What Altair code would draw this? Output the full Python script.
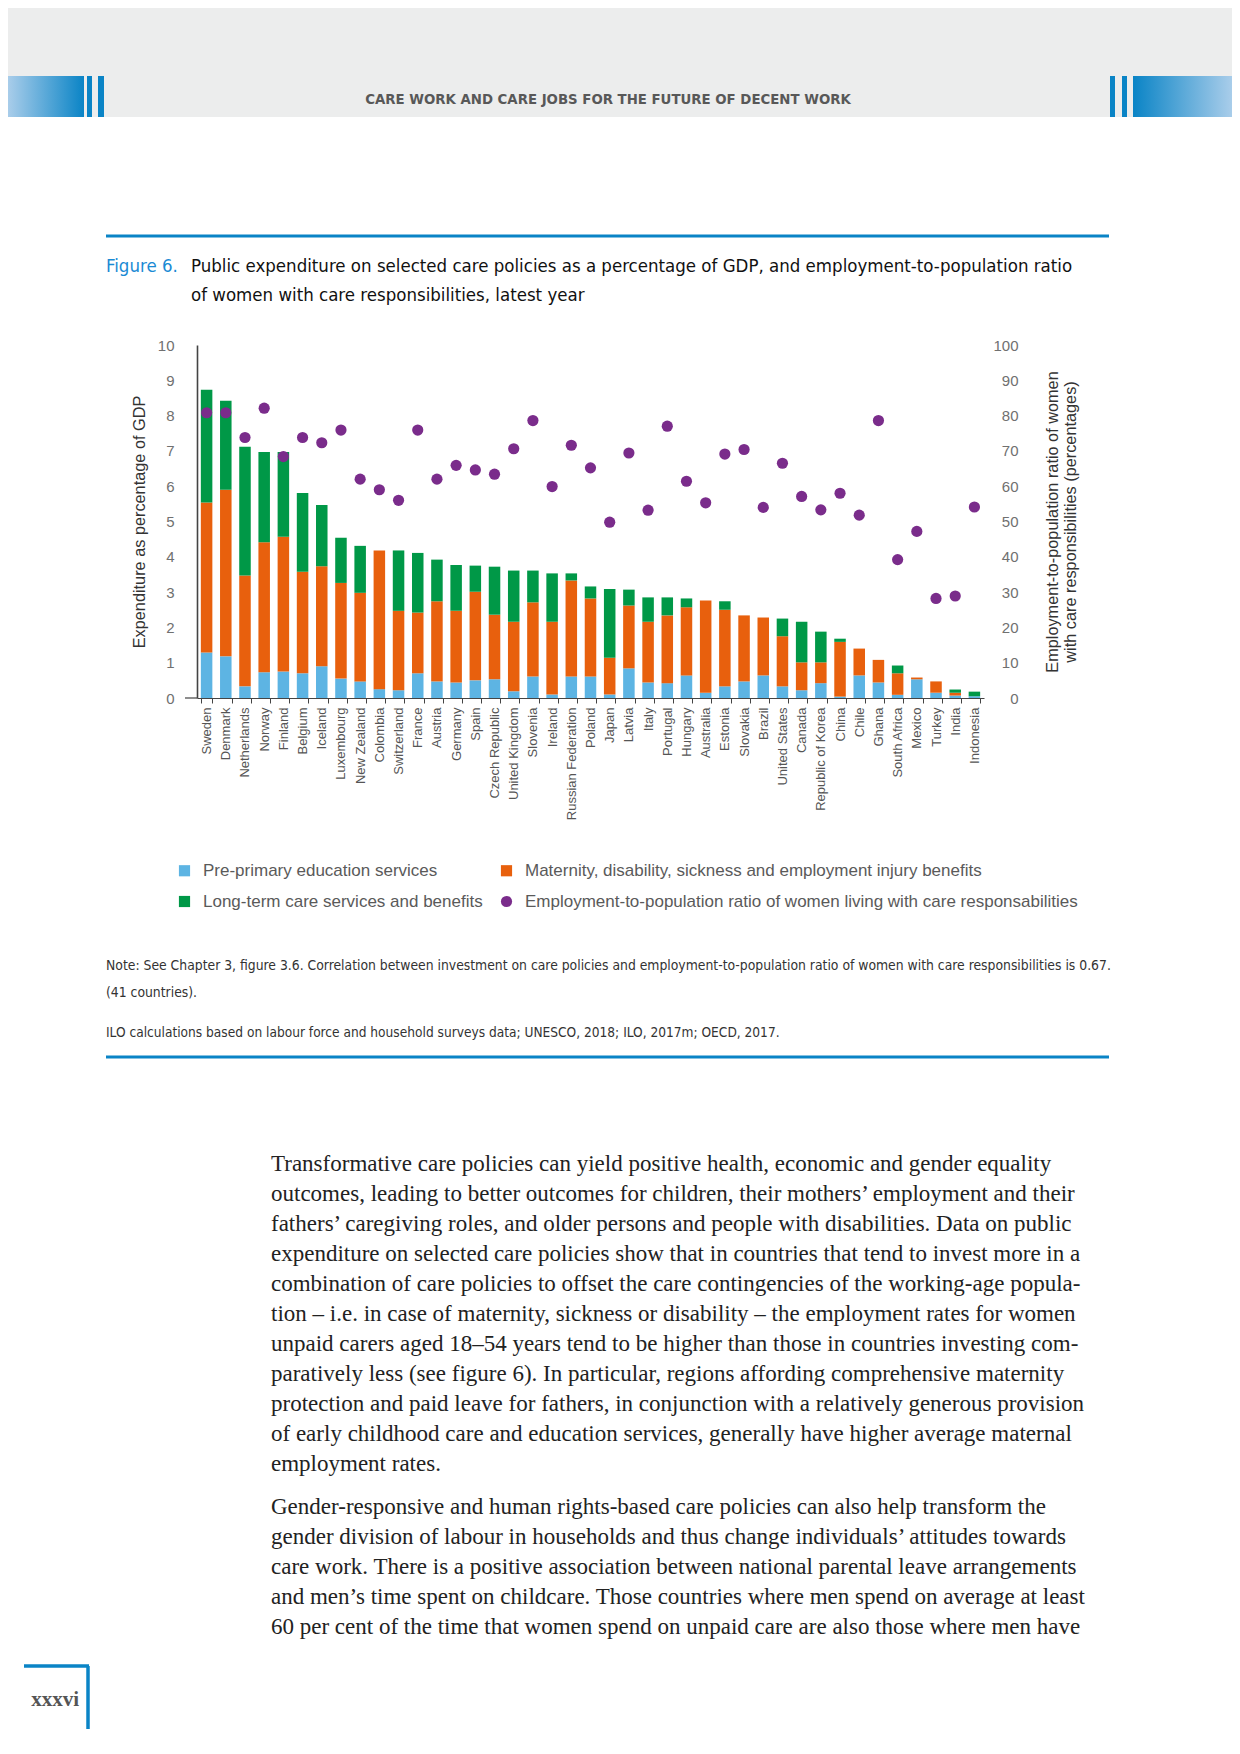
import altair as alt
import pandas as pd

# ---------------- data ----------------
countries = ["Sweden", "Denmark", "Netherlands", "Norway", "Finland", "Belgium", "Iceland",
             "Luxembourg", "New Zealand", "Colombia", "Switzerland", "France", "Austria",
             "Germany", "Spain", "Czech Republic", "United Kingdom", "Slovenia", "Ireland",
             "Russian Federation", "Poland", "Japan", "Latvia", "Italy", "Portugal", "Hungary",
             "Australia", "Estonia", "Slovakia", "Brazil", "United States", "Canada",
             "Republic of Korea", "China", "Chile", "Ghana", "South Africa", "Mexico",
             "Turkey", "India", "Indonesia"]

pre_primary = [1.29, 1.18, 0.33, 0.73, 0.75, 0.70, 0.90, 0.55, 0.47, 0.25, 0.22, 0.70, 0.47,
               0.44, 0.50, 0.53, 0.19, 0.61, 0.10, 0.61, 0.61, 0.10, 0.84, 0.44, 0.42, 0.64,
               0.15, 0.33, 0.47, 0.64, 0.33, 0.22, 0.42, 0.04, 0.64, 0.44, 0.09, 0.53,
               0.15, 0.07, 0.05]

maternity = [4.25, 4.72, 3.14, 3.68, 3.82, 2.88, 2.83, 2.71, 2.51, 3.93, 2.25, 1.72, 2.27,
             2.03, 2.51, 1.83, 1.97, 2.10, 2.06, 2.72, 2.21, 1.04, 1.78, 1.72, 1.92, 1.93,
             2.61, 2.17, 1.87, 1.64, 1.42, 0.79, 0.59, 1.55, 0.76, 0.64, 0.61, 0.05,
             0.32, 0.08, 0.00]

long_term = [3.19, 2.52, 3.65, 2.56, 2.40, 2.23, 1.74, 1.28, 1.33, 0.00, 1.71, 1.69, 1.18,
             1.30, 0.74, 1.36, 1.45, 0.90, 1.37, 0.20, 0.34, 1.95, 0.45, 0.69, 0.51, 0.25,
             0.00, 0.24, 0.00, 0.00, 0.50, 1.15, 0.87, 0.09, 0.00, 0.00, 0.22, 0.00,
             0.00, 0.09, 0.13]

employment = [80.8, 80.8, 73.8, 82.1, 68.4, 73.8, 72.3, 75.9, 62.0, 59.0, 56.0, 75.9, 62.0,
              65.9, 64.6, 63.4, 70.6, 78.6, 59.9, 71.6, 65.2, 49.8, 69.4, 53.2, 77.0, 61.4,
              55.3, 69.1, 70.4, 54.0, 66.5, 57.1, 53.3, 58.0, 51.8, 78.6, 39.2, 47.2,
              28.2, 28.9, 54.1]

PRE = "Pre-primary education services"
MAT = "Maternity, disability, sickness and employment injury benefits"
LTC = "Long-term care services and benefits"
EMP = "Employment-to-population ratio of women living with care responsabilities"

# legend order (filled column by column): col 1 = PRE, LTC ; col 2 = MAT, EMP
legend_series = [PRE, LTC, MAT, EMP]
series_colors = ["#5DB4E3", "#009847", "#E8600D", "#7A2C8B"]
series_shapes = ["square", "square", "square", "circle"]
series_sizes = [125, 125, 125, 66]

left_ticks = [0, 1, 2, 3, 4, 5, 6, 7, 8, 9, 10]
right_ticks = [0, 10, 20, 30, 40, 50, 60, 70, 80, 90, 100]

header_text = "CARE WORK AND CARE JOBS FOR THE FUTURE OF DECENT WORK"
fig_label = "Figure 6."
fig_title = ["Public expenditure on selected care policies as a percentage of GDP, and employment-to-population ratio",
             "of women with care responsibilities, latest year"]
note_lines = ["Note: See Chapter 3, figure 3.6. Correlation between investment on care policies and employment-to-population ratio of women with care responsibilities is 0.67.",
              "(41 countries)."]
source_line = "ILO calculations based on labour force and household surveys data; UNESCO, 2018; ILO, 2017m; OECD, 2017."
para1 = ["Transformative care policies can yield positive health, economic and gender equality",
         "outcomes, leading to better outcomes for children, their mothers\u2019 employment and their",
         "fathers\u2019 caregiving roles, and older persons and people with disabilities. Data on public",
         "expenditure on selected care policies show that in countries that tend to invest more in a",
         "combination of care policies to offset the care contingencies of the working-age popula-",
         "tion \u2013 i.e. in case of maternity, sickness or disability \u2013 the employment rates for women",
         "unpaid carers aged 18\u201354 years tend to be higher than those in countries investing com-",
         "paratively less (see figure 6). In particular, regions affording comprehensive maternity",
         "protection and paid leave for fathers, in conjunction with a relatively generous provision",
         "of early childhood care and education services, generally have higher average maternal",
         "employment rates."]
para2 = ["Gender-responsive and human rights-based care policies can also help transform the",
         "gender division of labour in households and thus change individuals\u2019 attitudes towards",
         "care work. There is a positive association between national parental leave arrangements",
         "and men\u2019s time spent on childcare. Those countries where men spend on average at least",
         "60 per cent of the time that women spend on unpaid care are also those where men have"]
page_number = "xxxvi"

# ---------------- tables ----------------
rows = []
for i, c in enumerate(countries):
    for k, (s, vals) in enumerate(zip([PRE, MAT, LTC], [pre_primary, maternity, long_term])):
        rows.append({"country": c, "series": s, "value": vals[i], "k": k})
bar_df = pd.DataFrame(rows)
emp_df = pd.DataFrame({"country": countries, "emp": employment, "series": EMP})

FONT = "Liberation Sans"
NARROW = "'Liberation Sans Narrow', 'DejaVu Sans Condensed', 'Liberation Sans', sans-serif"
SERIF = "Liberation Serif"
BLUE = "#0A84C6"

W, H = 787, 353

legend_def = alt.Legend(title=None, orient="none", legendX=-21, legendY=517, columns=2,
                        columnPadding=15, rowPadding=13, labelFont=FONT, labelFontSize=17,
                        labelColor="#5a5a5a", labelOffset=10, symbolStrokeWidth=0,
                        labelLimit=700)

bars = alt.Chart(bar_df).mark_bar().encode(
    x=alt.X("country:N", sort=countries,
            scale=alt.Scale(paddingInner=0.4, paddingOuter=0.2),
            axis=alt.Axis(title=None, labelAngle=-90, labelFontSize=13, labelColor="#555555",
                          labelPadding=4, tickSize=5, tickColor="#444444", tickWidth=1,
                          tickBand="extent", domainColor="#444444", domainWidth=1.2,
                          labelFont=FONT)),
    y=alt.Y("value:Q", stack="zero", scale=alt.Scale(domain=[0, 10], nice=False),
            axis=alt.Axis(title="Expenditure as percentage of GDP", values=left_ticks,
                          ticks=False, domainColor="#444444", domainWidth=1.6,
                          labelPadding=23, labelFontSize=15, labelColor="#707070",
                          labelFont=FONT, titleFont=FONT, titleFontSize=16.3,
                          titleFontWeight="normal", titleColor="#333333", titlePadding=10,
                          grid=False)),
    color=alt.Color("series:N", scale=alt.Scale(domain=legend_series, range=series_colors),
                    legend=legend_def),
    order=alt.Order("k:Q"),
)

points = alt.Chart(emp_df).mark_point(filled=True, opacity=1).encode(
    x=alt.X("country:N", sort=countries),
    y=alt.Y("emp:Q", scale=alt.Scale(domain=[0, 100], nice=False),
            axis=alt.Axis(orient="right", values=right_ticks, ticks=False, domain=False,
                          labelAlign="right", labelPadding=34, labelFontSize=15,
                          labelColor="#707070", labelFont=FONT,
                          title=["Employment-to-population ratio of women",
                                 "with care responsibilities (percentages)"],
                          titleAngle=270, titleBaseline="top", titleFont=FONT,
                          titleFontSize=16.3, titleFontWeight="normal", titleColor="#333333",
                          titlePadding=8, grid=False)),
    color=alt.Color("series:N", scale=alt.Scale(domain=legend_series, range=series_colors),
                    legend=legend_def),
    shape=alt.Shape("series:N", scale=alt.Scale(domain=legend_series, range=series_shapes),
                    legend=legend_def),
    size=alt.Size("series:N", scale=alt.Scale(domain=legend_series, range=series_sizes),
                  legend=legend_def),
)

one = alt.Data(values=[{"a": 1}])


def rect(x1, x2, y1, y2, color):
    return alt.Chart(one).mark_rect(color=color).encode(
        x=alt.value(x1), x2=alt.value(x2), y=alt.value(y1), y2=alt.value(y2))


def hrule(x1, x2, y, color, w):
    return alt.Chart(one).mark_rule(color=color, strokeWidth=w).encode(
        x=alt.value(x1), x2=alt.value(x2), y=alt.value(y))


def vrule(x, y1, y2, color, w):
    return alt.Chart(one).mark_rule(color=color, strokeWidth=w).encode(
        x=alt.value(x), y=alt.value(y1), y2=alt.value(y2))


def text(lines, x, y, font, size, color, weight="normal", align="left", lh=None):
    kw = dict(text=lines, font=font, fontSize=size, color=color, fontWeight=weight,
              align=align, baseline="alphabetic")
    if lh is not None:
        kw["lineHeight"] = lh
    return alt.Chart(one).mark_text(**kw).encode(x=alt.value(x), y=alt.value(y))


grad_left = alt.LinearGradient(gradient="linear", x1=0, x2=1, y1=0, y2=0,
                               stops=[alt.GradientStop(color="#A9CDEA", offset=0),
                                      alt.GradientStop(color=BLUE, offset=1)])
grad_right = alt.LinearGradient(gradient="linear", x1=0, x2=1, y1=0, y2=0,
                                stops=[alt.GradientStop(color=BLUE, offset=0),
                                       alt.GradientStop(color="#A9CDEA", offset=1)])

decor = [
    rect(-189, 1035, -337, -228, "#ECEDED"),
    rect(-189, -113, -269, -228, grad_left),
    rect(-110, -105, -269, -228, BLUE),
    rect(-99, -93, -269, -228, BLUE),
    rect(913, 918, -269, -228, BLUE),
    rect(925, 930, -269, -228, BLUE),
    rect(936, 1035, -269, -228, grad_right),
    text(header_text, 411, -241, NARROW, 14.8, "#585858", weight="bold", align="center"),
    hrule(-91, 912, -109, BLUE, 3),
    text(fig_label, -91, -73, NARROW, 18.5, "#1A8AD4"),
    text(fig_title, -6, -73, NARROW, 18.5, "#111111", lh=29),
    hrule(-12, 0, H, "#444444", 1.2),
    text(note_lines, -91, 625, NARROW, 13.8, "#333333", lh=27),
    text(source_line, -91, 692, NARROW, 13.6, "#333333"),
    hrule(-91, 912, 712, BLUE, 3),
    text(para1, 74, 826, SERIF, 23, "#222222", lh=29.96),
    text(para2, 74, 1169, SERIF, 23, "#222222", lh=29.96),
    hrule(-173, -108, 1321, BLUE, 3.5),
    vrule(-109, 1321, 1384, BLUE, 3.5),
    text(page_number, -118, 1361, SERIF, 21, "#555555", weight="bold", align="right"),
]

chart = alt.layer(bars, points, *decor).resolve_scale(y="independent").properties(
    width=W, height=H,
    padding={"left": 189, "top": 337, "right": 248, "bottom": 1040},
    autosize=alt.AutoSizeParams(type="none"),
).configure_view(stroke=None).configure_axis(grid=False)

chart.save("out.html", embed_options={"renderer": "svg", "actions": False})
